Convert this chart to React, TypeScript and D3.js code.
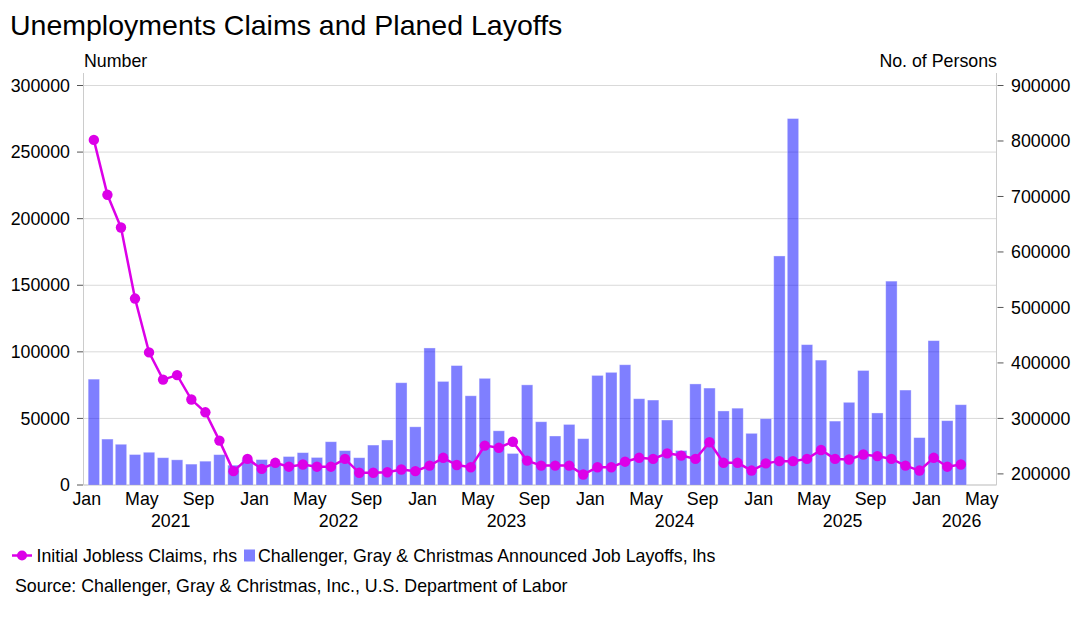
import React from "react";
import * as d3 from "d3";

// ---- Data ----
const startMonth = new Date(2021, 0, 1);
const endMonth = new Date(2026, 3, 1); // exclusive: last month is Mar 2026
const months: Date[] = d3.timeMonth.range(startMonth, endMonth);

// Challenger, Gray & Christmas announced job layoffs (lhs)
const layoffs: number[] = [
  79500, 34500, 30600, 22900, 24600, 20500, 18900, 15700, 17900, 22800, 14900, 19000,
  19100, 15200, 21400, 24300, 20700, 32500, 25800, 20500, 30000, 33800, 76800, 43700,
  102900, 77800, 89700, 67000, 80100, 40700, 23700, 75200, 47500, 36800, 45500, 34800,
  82300, 84600, 90300, 64800, 63800, 48800, 25900, 75900, 72800, 55600, 57700, 38800,
  49800, 172000, 275200, 105400, 93800, 48000, 62100, 86000, 54100, 153100, 71300, 35600,
  108400, 48300, 60300,
];

// Initial jobless claims (rhs)
const claims: number[] = [
  802000, 703000, 644000, 516000, 419000, 370000, 378000, 334000, 311000, 260000, 205000, 227000,
  209000, 220000, 213000, 217000, 213000, 213000, 227000, 202000, 202000, 203000, 208000, 205000,
  215000, 229000, 216000, 212000, 251000, 247000, 258000, 224000, 215000, 215000, 215000, 199000,
  212000, 212000, 222000, 229000, 227000, 237000, 233000, 227000, 257000, 220000, 220000, 206000,
  219000, 223000, 223000, 227000, 243000, 227000, 226000, 235000, 232000, 227000, 215000, 206000,
  229000, 213000, 217000,
];

const leftTicks: number[] = [0, 50000, 100000, 150000, 200000, 250000, 300000];
const rightTicks: number[] = [200000, 300000, 400000, 500000, 600000, 700000, 800000, 900000];
const monthTickLabels: string[] = ["Jan", "May", "Sep"];
const years: number[] = [2021, 2022, 2023, 2024, 2025, 2026];

const title = "Unemployments Claims and Planed Layoffs";
const leftAxisTitle = "Number";
const rightAxisTitle = "No. of Persons";
const lineLegend = "Initial Jobless Claims, rhs";
const barLegend = "Challenger, Gray & Christmas Announced Job Layoffs, lhs";
const sourceText = "Source: Challenger, Gray & Christmas, Inc., U.S. Department of Labor";

// ---- Layout ----
const W = 1081;
const H = 622;
const plotLeft = 83.5;
const plotRight = 996.5;
const plotTop = 73;
const plotBottom = 485;
const FONT = "'Liberation Sans', Arial, Helvetica, sans-serif";
const FS = 17.8;
const LINE_COLOR = "#dc00e8";
const BAR_FILL = "rgba(0,0,255,0.5)";
const GRID = "#d9d9d9";
const AXIS = "#cccccc";

export default function App() {
  const domainStart = new Date(2020, 11, 25);
  const domainEnd = new Date(2026, 5, 2);
  const x = d3.scaleTime().domain([domainStart, domainEnd]).range([plotLeft, plotRight]);
  const yL = d3.scaleLinear().domain([0, 300000]).range([plotBottom, 85.5]);
  const yR = d3.scaleLinear().domain([180000, 900000]).range([plotBottom, 85.5]);

  const mid = (d: Date) => new Date((d.getTime() + d3.timeMonth.offset(d, 1).getTime()) / 2);
  const barW = 11.4;

  const line = d3
    .line<number>()
    .x((_, i) => x(mid(months[i])))
    .y((v) => yR(v));

  const tickDates = d3
    .timeMonth
    .range(new Date(2021, 0, 1), new Date(2026, 5, 1))
    .filter((d) => monthTickLabels.includes(d3.timeFormat("%b")(d)));

  return (
    <svg
      width={W}
      height={H}
      style={{ position: "absolute", left: 0, top: 0, display: "block", background: "#fff" }}
      fontFamily={FONT}
    >
      <rect x={0} y={0} width={W} height={H} fill="#fff" />
      <text x={10} y={35} fontSize={28.5} fill="#000">
        {title}
      </text>
      <text x={84} y={67} fontSize={FS} fill="#000">
        {leftAxisTitle}
      </text>
      <text x={997} y={67} fontSize={FS} fill="#000" textAnchor="end">
        {rightAxisTitle}
      </text>

      {/* gridlines */}
      {leftTicks.map((t) => (
        <line key={"g" + t} x1={plotLeft} x2={plotRight} y1={yL(t)} y2={yL(t)} stroke={GRID} strokeWidth={1} />
      ))}

      {/* axis lines */}
      <line x1={plotLeft} x2={plotLeft} y1={plotTop} y2={plotBottom} stroke={AXIS} />
      <line x1={plotRight} x2={plotRight} y1={plotTop} y2={plotBottom} stroke={AXIS} />
      <line x1={plotLeft} x2={plotRight} y1={plotBottom} y2={plotBottom} stroke={AXIS} />

      {/* left ticks */}
      {leftTicks.map((t) => (
        <g key={"l" + t}>
          <line x1={77} x2={83} y1={yL(t)} y2={yL(t)} stroke="#555" />
          <text x={70} y={yL(t)} dy="0.35em" fontSize={FS} textAnchor="end" fill="#000">
            {t}
          </text>
        </g>
      ))}
      {/* right ticks */}
      {rightTicks.map((t) => (
        <g key={"r" + t}>
          <line x1={997.5} x2={1003.5} y1={yR(t)} y2={yR(t)} stroke="#555" />
          <text x={1011} y={yR(t)} dy="0.35em" fontSize={FS} fill="#000">
            {t}
          </text>
        </g>
      ))}

      {/* bars */}
      {layoffs.map((v, i) => (
        <rect
          key={"b" + i}
          x={x(mid(months[i])) - barW / 2}
          y={yL(v)}
          width={barW}
          height={plotBottom - yL(v)}
          fill={BAR_FILL}
          stroke="rgba(255,255,255,0.45)"
          strokeWidth={0.8}
        />
      ))}

      {/* line + points */}
      <path d={line(claims) || ""} fill="none" stroke={LINE_COLOR} strokeWidth={2.5} />
      {claims.map((v, i) => (
        <circle key={"c" + i} cx={x(mid(months[i]))} cy={yR(v)} r={5.2} fill={LINE_COLOR} />
      ))}

      {/* x axis labels */}
      {tickDates.map((d, i) => (
        <text key={"m" + i} x={x(d)} y={505} fontSize={FS} textAnchor="middle" fill="#000">
          {d3.timeFormat("%b")(d)}
        </text>
      ))}
      {years.map((yr) => {
        const a = Math.max(x(new Date(yr, 0, 1)), plotLeft);
        const b = Math.min(x(new Date(yr + 1, 0, 1)), plotRight);
        return (
          <text key={"y" + yr} x={(a + b) / 2} y={527} fontSize={FS} textAnchor="middle" fill="#000">
            {yr}
          </text>
        );
      })}

      {/* legend */}
      <line x1={12} x2={32} y1={555.5} y2={555.5} stroke={LINE_COLOR} strokeWidth={2.5} />
      <circle cx={22} cy={555.5} r={5} fill={LINE_COLOR} />
      <text x={36.5} y={561.5} fontSize={FS} fill="#000">
        {lineLegend}
      </text>
      <rect x={244} y={549.5} width={11} height={12} fill={BAR_FILL} />
      <text x={258} y={561.5} fontSize={FS} fill="#000">
        {barLegend}
      </text>

      <text x={15} y={592} fontSize={FS} fill="#000">
        {sourceText}
      </text>
    </svg>
  );
}
